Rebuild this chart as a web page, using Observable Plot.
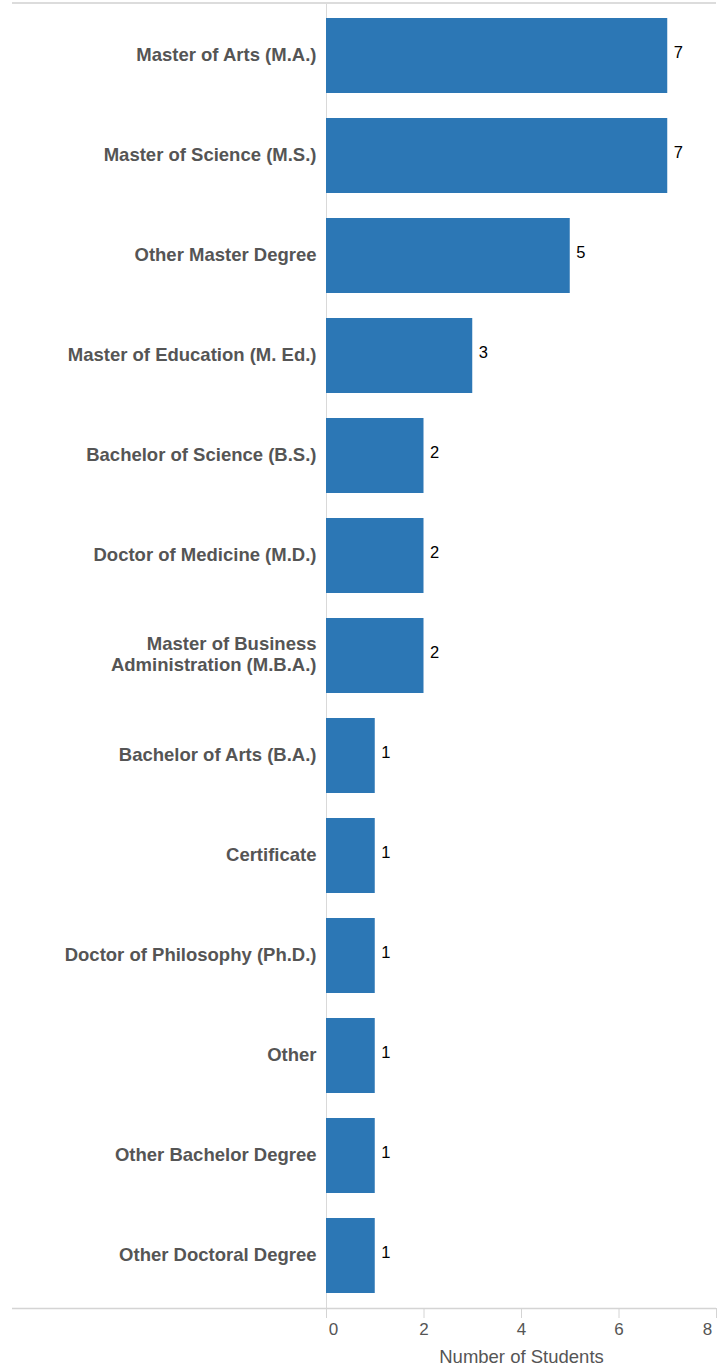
<!DOCTYPE html>
<html>
<head>
<meta charset="utf-8">
<script src="https://cdn.jsdelivr.net/npm/d3@7"></script>
<script src="https://cdn.jsdelivr.net/npm/@observablehq/plot@0.6"></script>
<style>
  html, body { margin: 0; padding: 0; background: #fff; }
  svg { display: block; font-family: "Liberation Sans", Arial, sans-serif; }
</style>
</head>
<body>
<div id="chart"></div>
<script>
const degrees = [
  "Master of Arts (M.A.)",
  "Master of Science (M.S.)",
  "Other Master Degree",
  "Master of Education (M. Ed.)",
  "Bachelor of Science (B.S.)",
  "Doctor of Medicine (M.D.)",
  "Master of Business Administration (M.B.A.)",
  "Bachelor of Arts (B.A.)",
  "Certificate",
  "Doctor of Philosophy (Ph.D.)",
  "Other",
  "Other Bachelor Degree",
  "Other Doctoral Degree"
];
const students = [7, 7, 5, 3, 2, 2, 2, 1, 1, 1, 1, 1, 1];
const xTicks = [0, 2, 4, 6, 8];
const xLabel = "Number of Students";
const wrapped = {"Master of Business Administration (M.B.A.)": "Master of Business\nAdministration (M.B.A.)"};

const data = degrees.map((d, i) => ({degree: d, value: students[i]}));

const W = 723, H = 1367;
const plot = Plot.plot({
  width: W,
  height: H,
  marginTop: 2,
  marginBottom: 59,
  marginLeft: 326,
  marginRight: 7,
  style: {fontFamily: "'Liberation Sans', Arial, sans-serif", background: "#fff"},
  x: {domain: [0, 8], label: null},
  y: {domain: degrees, paddingInner: 0.25, paddingOuter: 0.125, label: null},
  marks: [
    Plot.ruleX([0], {stroke: "#d9d9d9", strokeWidth: 1}),
    Plot.barX(data, {x: "value", y: "degree", fill: "#2c77b5"}),
    Plot.text(data, {x: "value", y: "degree", text: d => String(d.value), textAnchor: "start", dx: 6, dy: -3, fontSize: 16.5, fill: "#000"}),
    Plot.axisY({tickSize: 0, tickPadding: 10, fontSize: 18.5, fontWeight: "bold", fill: "#555", lineHeight: 1.15, dy: -2,
      tickFormat: d => wrapped[d] || d}),
    Plot.axisX({ticks: xTicks, tickSize: 10, stroke: "#d4d4d4", tickPadding: 6, fontSize: 16, fill: "#555",
      label: null, tickFormat: () => ""}),
    Plot.text(xTicks.filter(t => t === 0), {x: d => d, frameAnchor: "bottom", dy: 26, dx: 7, text: d => String(d), fontSize: 17, fill: "#555"}),
    Plot.text(xTicks.filter(t => t !== 0 && t !== 8), {x: d => d, frameAnchor: "bottom", dy: 26, text: d => String(d), fontSize: 17, fill: "#555"}),
    Plot.text(xTicks.filter(t => t === 8), {x: d => d, frameAnchor: "bottom", dy: 26, dx: -9, text: d => String(d), fontSize: 17, fill: "#555"}),
    Plot.text([xLabel], {x: 4, frameAnchor: "bottom", dy: 54, text: d => d, fontSize: 18.5, fill: "#555"})
  ]
});

// Frame lines (top and bottom) extending into the left margin, as in Tableau
const xs = plot.scale("x"), ys = plot.scale("y");
const svg = d3.select(plot);
const x0 = 12, x1 = xs.range[1];
const yTop = ys.range[0], yBot = ys.range[1];
svg.append("line").attr("x1", x0).attr("x2", x1).attr("y1", yTop + 1).attr("y2", yTop + 1)
  .attr("stroke", "#dcdcdc").attr("stroke-width", 2);
svg.append("line").attr("x1", x0).attr("x2", x1).attr("y1", yBot + 0.5).attr("y2", yBot + 0.5)
  .attr("stroke", "#d4d4d4").attr("stroke-width", 1.5);
document.getElementById("chart").appendChild(plot);
</script>
</body>
</html>
